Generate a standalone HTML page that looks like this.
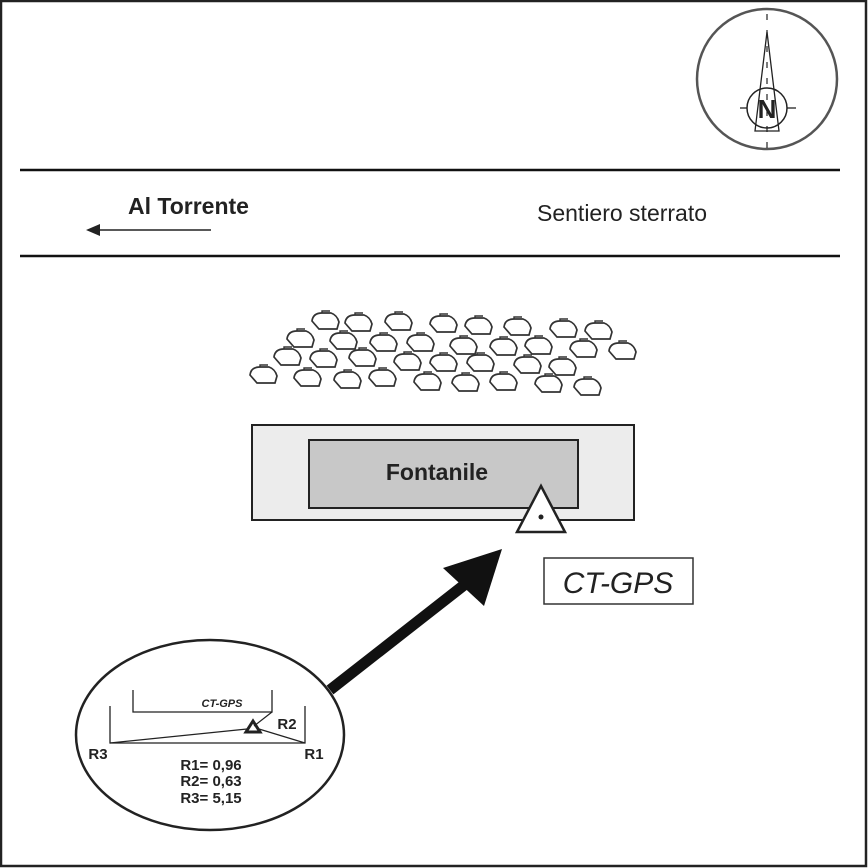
<!DOCTYPE html>
<html><head><meta charset="utf-8"><style>
html,body{margin:0;padding:0;background:#fff}
svg{display:block}
text{font-family:"Liberation Sans",Arial,sans-serif}
</style></head><body>
<svg width="868" height="868" viewBox="0 0 868 868" xmlns="http://www.w3.org/2000/svg">
<defs>
<g id="t"><path d="M-13,1 Q-12,-7 -3,-7 L6,-7 Q12,-5 14,2 L12,9 L-6,9 Z" fill="none" stroke="#333" stroke-width="1.7"/><path d="M-3,-7 L-3,-9 L5,-9" fill="none" stroke="#333" stroke-width="1.4"/></g>
</defs>
<rect x="1" y="1" width="865" height="865" fill="#fff" stroke="#222" stroke-width="2.5"/>
<!-- compass -->
<circle cx="767" cy="79" r="70" fill="none" stroke="#555" stroke-width="2.5"/>
<path d="M767,32 L779,131 L755,131 Z" fill="none" stroke="#222" stroke-width="1.3"/>
<circle cx="767" cy="108" r="20" fill="none" stroke="#222" stroke-width="1.5"/>
<line x1="740" y1="108" x2="747" y2="108" stroke="#222" stroke-width="1.3"/>
<line x1="787" y1="108" x2="796" y2="108" stroke="#222" stroke-width="1.3"/>
<line x1="767" y1="14" x2="767" y2="148" stroke="#222" stroke-width="1.2" stroke-dasharray="6,10"/>
<text x="767" y="118" font-size="26" font-weight="bold" text-anchor="middle" fill="#222">N</text>
<!-- road -->
<line x1="20" y1="170" x2="840" y2="170" stroke="#111" stroke-width="2.5"/>
<line x1="20" y1="256" x2="840" y2="256" stroke="#111" stroke-width="2.5"/>
<text x="128" y="214" font-size="23" font-weight="bold" fill="#222">Al Torrente</text>
<line x1="98" y1="230" x2="211" y2="230" stroke="#222" stroke-width="1.5"/>
<path d="M86,230 L100,224 L100,236 Z" fill="#222"/>
<text x="537" y="221" font-size="23" fill="#222">Sentiero sterrato</text>
<!-- tufts -->
<g>
<use href="#t" x="325" y="320"/><use href="#t" x="358" y="322"/><use href="#t" x="398" y="321"/><use href="#t" x="443" y="323"/><use href="#t" x="478" y="325"/><use href="#t" x="517" y="326"/><use href="#t" x="563" y="328"/><use href="#t" x="598" y="330"/>
<use href="#t" x="300" y="338"/><use href="#t" x="343" y="340"/><use href="#t" x="383" y="342"/><use href="#t" x="420" y="342"/><use href="#t" x="463" y="345"/><use href="#t" x="503" y="346"/><use href="#t" x="538" y="345"/><use href="#t" x="583" y="348"/><use href="#t" x="622" y="350"/>
<use href="#t" x="287" y="356"/><use href="#t" x="323" y="358"/><use href="#t" x="362" y="357"/><use href="#t" x="407" y="361"/><use href="#t" x="443" y="362"/><use href="#t" x="480" y="362"/><use href="#t" x="527" y="364"/><use href="#t" x="562" y="366"/>
<use href="#t" x="263" y="374"/><use href="#t" x="307" y="377"/><use href="#t" x="347" y="379"/><use href="#t" x="382" y="377"/><use href="#t" x="427" y="381"/><use href="#t" x="465" y="382"/><use href="#t" x="503" y="381"/><use href="#t" x="548" y="383"/><use href="#t" x="587" y="386"/>
</g>
<!-- fontanile -->
<rect x="252" y="425" width="382" height="95" fill="#ececec" stroke="#222" stroke-width="2"/>
<rect x="309" y="440" width="269" height="68" fill="#c8c8c8" stroke="#222" stroke-width="2"/>
<text x="437" y="480" font-size="23" font-weight="bold" text-anchor="middle" fill="#222">Fontanile</text>
<path d="M541,486 L565,532 L517,532 Z" fill="#fff" stroke="#222" stroke-width="2.5"/>
<circle cx="541" cy="517" r="2.5" fill="#222"/>
<rect x="544" y="558" width="149" height="46" fill="#fff" stroke="#333" stroke-width="1.5"/>
<text x="618" y="593" font-size="30" font-style="italic" text-anchor="middle" fill="#222">CT-GPS</text>
<!-- arrow -->
<line x1="330" y1="690" x2="468" y2="582" stroke="#111" stroke-width="11"/>
<path d="M502,549 L484,606 L443,568 Z" fill="#111"/>
<!-- inset -->
<ellipse cx="210" cy="735" rx="134" ry="95" fill="#fff" stroke="#222" stroke-width="2.5"/>
<path d="M133,690 L133,712 L272,712 L272,690" fill="none" stroke="#222" stroke-width="1.3"/>
<text x="222" y="707" font-size="11" font-style="italic" font-weight="bold" text-anchor="middle" fill="#222">CT-GPS</text>
<path d="M110,706 L110,743 L305,743 L305,706" fill="none" stroke="#222" stroke-width="1.3"/>
<line x1="110" y1="743" x2="247" y2="729" stroke="#222" stroke-width="1.2"/>
<line x1="305" y1="743" x2="259" y2="729" stroke="#222" stroke-width="1.2"/>
<line x1="272" y1="712" x2="254" y2="726" stroke="#222" stroke-width="1.2"/>
<path d="M253,721 L260,732 L246,732 Z" fill="none" stroke="#222" stroke-width="3"/>
<text x="287" y="729" font-size="15" font-weight="bold" text-anchor="middle" fill="#222">R2</text>
<text x="98" y="759" font-size="15" font-weight="bold" text-anchor="middle" fill="#222">R3</text>
<text x="314" y="759" font-size="15" font-weight="bold" text-anchor="middle" fill="#222">R1</text>
<text x="211" y="770" font-size="15" font-weight="bold" text-anchor="middle" fill="#222">R1= 0,96</text>
<text x="211" y="786" font-size="15" font-weight="bold" text-anchor="middle" fill="#222">R2= 0,63</text>
<text x="211" y="803" font-size="15" font-weight="bold" text-anchor="middle" fill="#222">R3= 5,15</text>
</svg>
</body></html>
